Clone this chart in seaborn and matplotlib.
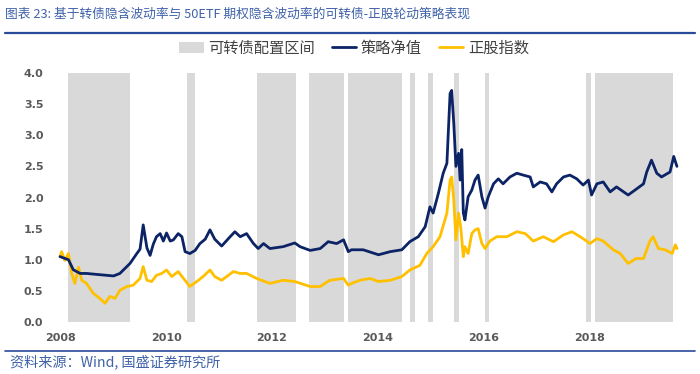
import matplotlib
matplotlib.use("Agg")
import matplotlib.pyplot as plt
from matplotlib.patches import Patch
from matplotlib.lines import Line2D
import seaborn as sns
import pandas as pd

# ---------------- data (decimal years) ----------------
strategy_t = [2008.00, 2008.16, 2008.25, 2008.38, 2008.50, 2008.75, 2009.01, 2009.13, 2009.32, 2009.45,
              2009.51, 2009.57, 2009.64, 2009.70, 2009.76, 2009.82, 2009.89, 2009.95, 2010.01, 2010.08,
              2010.14, 2010.23, 2010.30, 2010.36, 2010.45, 2010.55, 2010.64, 2010.74, 2010.83, 2010.92,
              2011.05, 2011.21, 2011.30, 2011.40, 2011.52, 2011.65, 2011.74, 2011.84, 2011.96, 2012.21,
              2012.43, 2012.53, 2012.72, 2012.91, 2013.06, 2013.22, 2013.35, 2013.44, 2013.50, 2013.72,
              2014.01, 2014.23, 2014.45, 2014.60, 2014.76, 2014.89, 2014.98, 2015.04, 2015.14, 2015.23,
              2015.30, 2015.36, 2015.39, 2015.43, 2015.47, 2015.52, 2015.55, 2015.58, 2015.61, 2015.64,
              2015.70, 2015.77, 2015.83, 2015.89, 2015.96, 2016.02, 2016.08, 2016.18, 2016.27, 2016.36,
              2016.49, 2016.62, 2016.74, 2016.87, 2016.93, 2017.06, 2017.18, 2017.28, 2017.37, 2017.50,
              2017.62, 2017.75, 2017.87, 2017.97, 2018.03, 2018.13, 2018.25, 2018.38, 2018.50, 2018.72,
              2018.85, 2019.01, 2019.07, 2019.16, 2019.26, 2019.35, 2019.51, 2019.58, 2019.64]
strategy_v = [1.05, 1.00, 0.84, 0.78, 0.78, 0.76, 0.74, 0.78, 0.94, 1.10,
              1.17, 1.56, 1.19, 1.07, 1.25, 1.37, 1.42, 1.30, 1.43, 1.30,
              1.32, 1.42, 1.37, 1.13, 1.10, 1.15, 1.26, 1.33, 1.48, 1.33,
              1.22, 1.37, 1.45, 1.37, 1.42, 1.26, 1.18, 1.26, 1.18, 1.21,
              1.27, 1.21, 1.15, 1.18, 1.29, 1.26, 1.32, 1.13, 1.16, 1.16,
              1.08, 1.13, 1.16, 1.29, 1.37, 1.53, 1.85, 1.75, 2.07, 2.39,
              2.55, 3.67, 3.72, 3.19, 2.50, 2.71, 2.28, 2.77, 1.75, 1.64,
              2.01, 2.12, 2.28, 2.36, 2.01, 1.83, 2.01, 2.22, 2.30, 2.22,
              2.33, 2.39, 2.36, 2.33, 2.17, 2.25, 2.22, 2.09, 2.22, 2.33,
              2.36, 2.30, 2.20, 2.28, 2.04, 2.22, 2.25, 2.09, 2.17, 2.04,
              2.12, 2.22, 2.41, 2.60, 2.39, 2.33, 2.41, 2.66, 2.50]

stock_t = [2008.00, 2008.03, 2008.09, 2008.16, 2008.22, 2008.28, 2008.35, 2008.41, 2008.50, 2008.63,
           2008.75, 2008.85, 2008.94, 2009.04, 2009.13, 2009.26, 2009.38, 2009.51, 2009.57, 2009.64,
           2009.73, 2009.82, 2009.92, 2010.01, 2010.11, 2010.23, 2010.33, 2010.45, 2010.58, 2010.70,
           2010.83, 2010.92, 2011.05, 2011.27, 2011.40, 2011.52, 2011.71, 2011.96, 2012.21, 2012.43,
           2012.72, 2012.91, 2013.09, 2013.35, 2013.44, 2013.50, 2013.66, 2013.85, 2014.01, 2014.23,
           2014.45, 2014.60, 2014.79, 2014.92, 2015.04, 2015.17, 2015.30, 2015.36, 2015.39, 2015.43,
           2015.47, 2015.52, 2015.56, 2015.61, 2015.64, 2015.70, 2015.77, 2015.83, 2015.89, 2015.96,
           2016.02, 2016.11, 2016.24, 2016.43, 2016.62, 2016.78, 2016.93, 2017.12, 2017.31, 2017.50,
           2017.66, 2017.87, 2018.00, 2018.13, 2018.25, 2018.44, 2018.57, 2018.72, 2018.87, 2019.01,
           2019.13, 2019.19, 2019.29, 2019.42, 2019.55, 2019.61, 2019.64]
stock_v = [1.05, 1.13, 0.99, 1.10, 0.78, 0.62, 0.88, 0.67, 0.62, 0.46,
           0.38, 0.30, 0.41, 0.38, 0.51, 0.57, 0.59, 0.70, 0.89, 0.67,
           0.65, 0.75, 0.78, 0.835, 0.73, 0.81, 0.70, 0.57, 0.65, 0.73,
           0.835, 0.73, 0.67, 0.81, 0.78, 0.78, 0.70, 0.62, 0.67, 0.65,
           0.57, 0.57, 0.67, 0.70, 0.59, 0.62, 0.67, 0.70, 0.65, 0.67,
           0.73, 0.835, 0.91, 1.10, 1.21, 1.37, 1.75, 2.28, 2.33, 1.96,
           1.32, 1.75, 1.53, 1.05, 1.21, 1.10, 1.42, 1.48, 1.50, 1.26,
           1.18, 1.30, 1.37, 1.37, 1.45, 1.42, 1.30, 1.37, 1.29, 1.40,
           1.45, 1.34, 1.26, 1.34, 1.30, 1.16, 1.10, 0.94, 1.02, 1.02,
           1.30, 1.37, 1.18, 1.16, 1.10, 1.24, 1.18]

cb_periods = [(2008.16, 2009.32), (2010.39, 2010.55), (2011.71, 2012.45), (2012.70, 2013.36),
              (2013.44, 2014.45), (2014.61, 2014.70), (2014.94, 2015.03), (2015.44, 2015.52),
              (2016.02, 2016.10), (2017.92, 2018.01), (2018.09, 2019.57)]

x_ticks = [2008, 2010, 2012, 2014, 2016, 2018]
y_ticks = [0.0, 0.5, 1.0, 1.5, 2.0, 2.5, 3.0, 3.5, 4.0]

labels = ["可转债配置区间", "策略净值", "正股指数"]
title = "图表 23: 基于转债隐含波动率与 50ETF 期权隐含波动率的可转债-正股轮动策略表现"
source = "资料来源：Wind, 国盛证券研究所"

# ---------------- style ----------------
sns.set_theme(style="white")
plt.rcParams['font.family'] = ['Noto Sans CJK SC', 'DejaVu Sans']

NAVY = "#0C2366"
GOLD = "#FFC000"
SHADE = "#D9D9D9"
TICK = "#595959"
TITLEC = "#3F62A8"

fig = plt.figure(figsize=(7.0, 3.74), dpi=100)
ax = fig.add_axes([56 / 700, 52 / 374, 628 / 700, 249 / 374])

for a, b in cb_periods:
    ax.axvspan(a, b, color=SHADE, lw=0, zorder=0)

df_s = pd.DataFrame({"t": strategy_t, "v": strategy_v})
df_k = pd.DataFrame({"t": stock_t, "v": stock_v})
sns.lineplot(data=df_k, x="t", y="v", ax=ax, color=GOLD, lw=2.0, zorder=3)
sns.lineplot(data=df_s, x="t", y="v", ax=ax, color=NAVY, lw=2.0, zorder=4)

ax.set_xlim(2008 - 4 / 53, 2008 + 624 / 53)
ax.set_ylim(0, 4)
ax.set_xticks(x_ticks)
ax.set_xticklabels([str(t) for t in x_ticks])
ax.set_yticks(y_ticks)
ax.set_yticklabels([f"{v:.1f}" for v in y_ticks])
ax.set_xlabel("")
ax.set_ylabel("")
for s in ax.spines.values():
    s.set_visible(False)
ax.tick_params(axis="both", length=0, labelsize=8, labelcolor=TICK)
ax.tick_params(axis="x", pad=8)
ax.tick_params(axis="y", pad=9)
for lab in ax.get_xticklabels() + ax.get_yticklabels():
    lab.set_fontweight("bold")
    lab.set_family("DejaVu Sans")

handles = [Patch(facecolor=SHADE, edgecolor="none"),
           Line2D([0], [0], color=NAVY, lw=2.0),
           Line2D([0], [0], color=GOLD, lw=2.0)]
leg = fig.legend(handles, labels, loc="center", bbox_to_anchor=(354 / 700, 1 - 48 / 374),
                 ncol=3, frameon=False, fontsize=11, handlelength=1.6, handletextpad=0.3,
                 columnspacing=1.1, labelcolor="#404040")

fig.text(5 / 700, 1 - 14 / 374, title, fontsize=9.2, color=TITLEC, style="italic",
         ha="left", va="center")
fig.add_artist(Line2D([5 / 700, 695 / 700], [1 - 33 / 374, 1 - 33 / 374],
                      color="#2A4A9A", lw=1.6, transform=fig.transFigure))
fig.add_artist(Line2D([5 / 700, 695 / 700], [1 - 351 / 374, 1 - 351 / 374],
                      color="#2A4A9A", lw=1.2, transform=fig.transFigure))
fig.text(10 / 700, 1 - 362 / 374, source, fontsize=10.2, color=TITLEC, style="italic",
         ha="left", va="center")

fig.savefig("out.png", dpi=100)
